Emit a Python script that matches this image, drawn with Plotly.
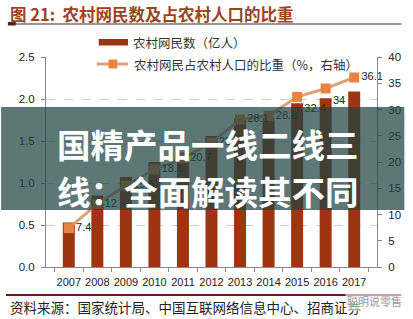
import plotly.graph_objects as go

years = ["2007", "2008", "2009", "2010", "2011", "2012", "2013", "2014", "2015", "2016", "2017"]
users = [0.53, 0.85, 1.07, 1.25, 1.36, 1.56, 1.77, 1.78, 1.95, 2.01, 2.09]
ratio = [7.4, 12, 15.5, 18.6, 20.7, 23.7, 28.1, 28.8, 32.4, 34, 36.1]
ratio_labels = ["7.4", "12", "15.5", "18.6", "20.7", "23.7", "28.1", "28.8", "32.4", "34", "36.1"]

W, H = 413, 319
L, R, T, B = 46, 385, 57, 267


def px(x):
    return (x - L) / (R - L)


def py(y):
    return (B - y) / (B - T)


CJK = "Noto Sans CJK SC"
NUM = "Liberation Sans"
BAR = "#9C3510"
LINE = "#DDA27A"
MARK = "#E8843F"

text_pos = ["middle right"] * 8 + ["bottom right", "bottom right", "middle right"]

fig = go.Figure()
fig.add_trace(go.Bar(x=years, y=users, marker=dict(color=BAR, line=dict(width=0)),
                     name="农村网民数（亿人）", yaxis="y"))
fig.add_trace(go.Scatter(x=years, y=ratio, yaxis="y2", mode="lines+markers+text",
                         line=dict(color=LINE, width=3),
                         marker=dict(symbol="square", size=10, color=MARK),
                         text=ratio_labels, textposition=text_pos, cliponaxis=False,
                         textfont=dict(family=NUM, size=11, color="#222"),
                         name="农村网民占农村人口的比重（%，右轴）"))

shapes = [
    # title underline
    dict(type="line", xref="paper", yref="paper", x0=px(7), x1=px(410), y0=py(24), y1=py(24),
         line=dict(color="#3a2a2a", width=1.2)),
    dict(type="rect", xref="paper", yref="paper", x0=px(7), x1=px(15), y0=py(22), y1=py(25.5),
         line=dict(width=0), fillcolor="#3a2a2a"),
    # legend swatches
    dict(type="rect", xref="paper", yref="paper", x0=px(100), x1=px(130), y0=py(39), y1=py(45.5),
         line=dict(width=0), fillcolor=BAR),
    dict(type="line", xref="paper", yref="paper", x0=px(98), x1=px(130), y0=py(64), y1=py(64),
         line=dict(color=LINE, width=3)),
    dict(type="rect", xref="paper", yref="paper", x0=px(110), x1=px(119), y0=py(59.5), y1=py(68.5),
         line=dict(width=0), fillcolor=MARK),
    # bottom rule
    dict(type="line", xref="paper", yref="paper", x0=px(5), x1=px(410), y0=py(295), y1=py(295),
         line=dict(color="#6b1a1a", width=2)),
    # overlay banner
    dict(type="rect", xref="paper", yref="paper", x0=px(0), x1=px(413), y0=py(210), y1=py(107),
         line=dict(width=0), fillcolor="rgba(30,66,66,0.72)", layer="above"),
]

annotations = [
    dict(text="图 21:  农村网民数及占农村人口的比重", xref="paper", yref="paper", x=px(7), y=py(14),
         xanchor="left", yanchor="middle", showarrow=False,
         font=dict(family=CJK, size=16.5, color="#9a4520", weight="bold")),
    dict(text="农村网民数（亿人）", xref="paper", yref="paper", x=px(133), y=py(42),
         xanchor="left", yanchor="middle", showarrow=False,
         font=dict(family=CJK, size=12.5, color="#333")),
    dict(text="农村网民占农村人口的比重（%，右轴）", xref="paper", yref="paper", x=px(134), y=py(64),
         xanchor="left", yanchor="middle", showarrow=False,
         font=dict(family=CJK, size=12.5, color="#333")),
    dict(text="资料来源：国家统计局、中国互联网络信息中心、招商证券", xref="paper", yref="paper",
         x=px(7), y=py(307), xanchor="left", yanchor="middle", showarrow=False,
         font=dict(family=CJK, size=13.5, color="#222")),
    dict(text="聪明说零售", xref="paper", yref="paper", x=px(352), y=py(301),
         xanchor="left", yanchor="middle", showarrow=False, bgcolor="rgba(255,255,255,0.6)",
         font=dict(family=CJK, size=11, color="#999")),
    dict(text="国精产品一线二线三", xref="paper", yref="paper", x=px(55), y=py(143),
         xanchor="left", yanchor="middle", showarrow=False,
         font=dict(family=CJK, size=33.5, color="white", weight="bold")),
    dict(text="线：全面解读其不同", xref="paper", yref="paper", x=px(55), y=py(190),
         xanchor="left", yanchor="middle", showarrow=False,
         font=dict(family=CJK, size=33.5, color="white", weight="bold")),
]

fig.update_layout(
    width=W, height=H,
    margin=dict(l=L, r=W - R, t=T, b=H - B, pad=0),
    paper_bgcolor="white", plot_bgcolor="white",
    showlegend=False, bargap=0.58,
    font=dict(family=NUM, size=11, color="#333"),
    xaxis=dict(type="category", showline=True, linecolor="#888", linewidth=1,
               ticks="outside", ticklen=4, tickcolor="#888", tickson="boundaries",
               tickangle=0, ticklabelstandoff=5,
               tickfont=dict(family=NUM, size=11, color="#222"),
               showgrid=False),
    yaxis=dict(range=[0, 2.5], tickvals=[0, 0.5, 1.0, 1.5, 2.0, 2.5],
               ticktext=["0.0", "0.5", "1.0", "1.5", "2.0", "2.5"],
               showline=True, linecolor="#888", linewidth=1, ticks="outside", ticklen=4,
               tickcolor="#888", showgrid=True, gridcolor="#cfcfcf", griddash="dash",
               zeroline=False, tickfont=dict(family=NUM, size=11.5, color="#222"),
               ticklabelstandoff=4),
    yaxis2=dict(range=[0, 40], tickvals=[0, 5, 10, 15, 20, 25, 30, 35, 40], overlaying="y",
                side="right", showline=True, linecolor="#888", linewidth=1, ticks="outside",
                ticklen=4, tickcolor="#888", showgrid=False, zeroline=False,
                tickfont=dict(family=NUM, size=11.5, color="#222"), ticklabelstandoff=4),
    shapes=shapes, annotations=annotations,
)

fig.write_html("out.html")
